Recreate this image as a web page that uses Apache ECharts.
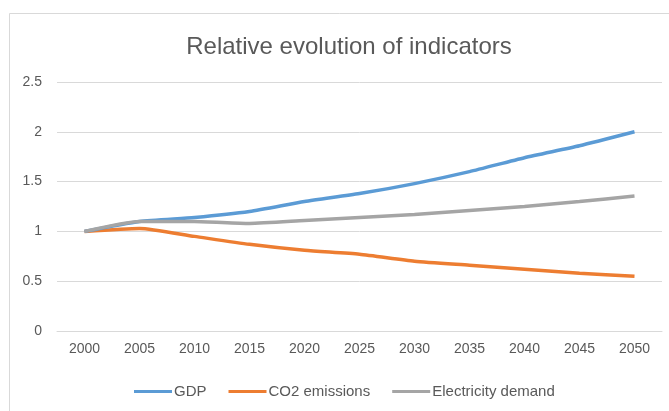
<!DOCTYPE html>
<html>
<head>
<meta charset="utf-8">
<script src="https://cdn.jsdelivr.net/npm/echarts@6/dist/echarts.min.js"></script>
<style>html,body{margin:0;padding:0;background:#fff;}#c{width:669px;height:411px;}</style>
</head>
<body>
<div id="c"></div>
<script>
var years = ['2000','2005','2010','2015','2020','2025','2030','2035','2040','2045','2050'];
var gdp = [1.0, 1.10, 1.14, 1.20, 1.30, 1.38, 1.48, 1.60, 1.74, 1.86, 2.00];
var co2 = [1.0, 1.03, 0.95, 0.87, 0.81, 0.77, 0.70, 0.66, 0.62, 0.58, 0.55];
var elec = [1.0, 1.10, 1.10, 1.08, 1.11, 1.14, 1.17, 1.21, 1.25, 1.30, 1.355];
var yTicks = [0, 0.5, 1, 1.5, 2, 2.5];

var chart = echarts.init(document.getElementById('c'));
var font = 'Liberation Sans';
chart.setOption({
  animation: false,
  backgroundColor: '#fff',
  graphic: [{
    type: 'rect', left: 9, top: 13, silent: true, z: -1,
    shape: {width: 680, height: 420},
    style: {fill: '#fff', stroke: '#D9D9D9', lineWidth: 1}
  }],
  title: {
    text: 'Relative evolution of indicators',
    left: 344, top: 30, textAlign: 'center',
    textStyle: {fontFamily: font, fontSize: 24, fontWeight: 'normal', color: '#595959'}
  },
  legend: {
    left: 129, top: 379,
    itemWidth: 38, itemHeight: 14, itemGap: 22,
    icon: 'path://M0,0 L38,0 L38,3 L0,3 Z',
    textStyle: {fontFamily: font, fontSize: 15, color: '#595959', padding: [0,0,0,-3]},
    data: ['GDP', 'CO2 emissions', 'Electricity demand']
  },
  grid: {left: 57, right: 7, top: 82, bottom: 80, containLabel: false},
  xAxis: {
    type: 'category', data: years, boundaryGap: true,
    axisLine: {show: true, lineStyle: {color: '#D9D9D9'}},
    axisTick: {show: false},
    axisLabel: {fontFamily: font, fontSize: 14, color: '#595959', margin: 11}
  },
  yAxis: {
    type: 'value', min: 0, max: 2.5, interval: 0.5,
    axisLine: {show: false}, axisTick: {show: false},
    axisLabel: {fontFamily: font, fontSize: 14, color: '#595959', margin: 15,
      formatter: function(v){ return String(v); }},
    splitLine: {lineStyle: {color: '#D9D9D9', width: 1}}
  },
  series: [
    {name: 'GDP', type: 'line', data: gdp, smooth: 0.2, symbol: 'none',
     lineStyle: {color: '#5B9BD5', width: 3.5}, itemStyle: {color: '#5B9BD5'}, z: 3},
    {name: 'CO2 emissions', type: 'line', data: co2, smooth: 0.2, symbol: 'none',
     lineStyle: {color: '#ED7D31', width: 3.5}, itemStyle: {color: '#ED7D31'}, z: 2},
    {name: 'Electricity demand', type: 'line', data: elec, smooth: 0.2, symbol: 'none',
     lineStyle: {color: '#A5A5A5', width: 3.5}, itemStyle: {color: '#A5A5A5'}, z: 4}
  ]
});
</script>
</body>
</html>
